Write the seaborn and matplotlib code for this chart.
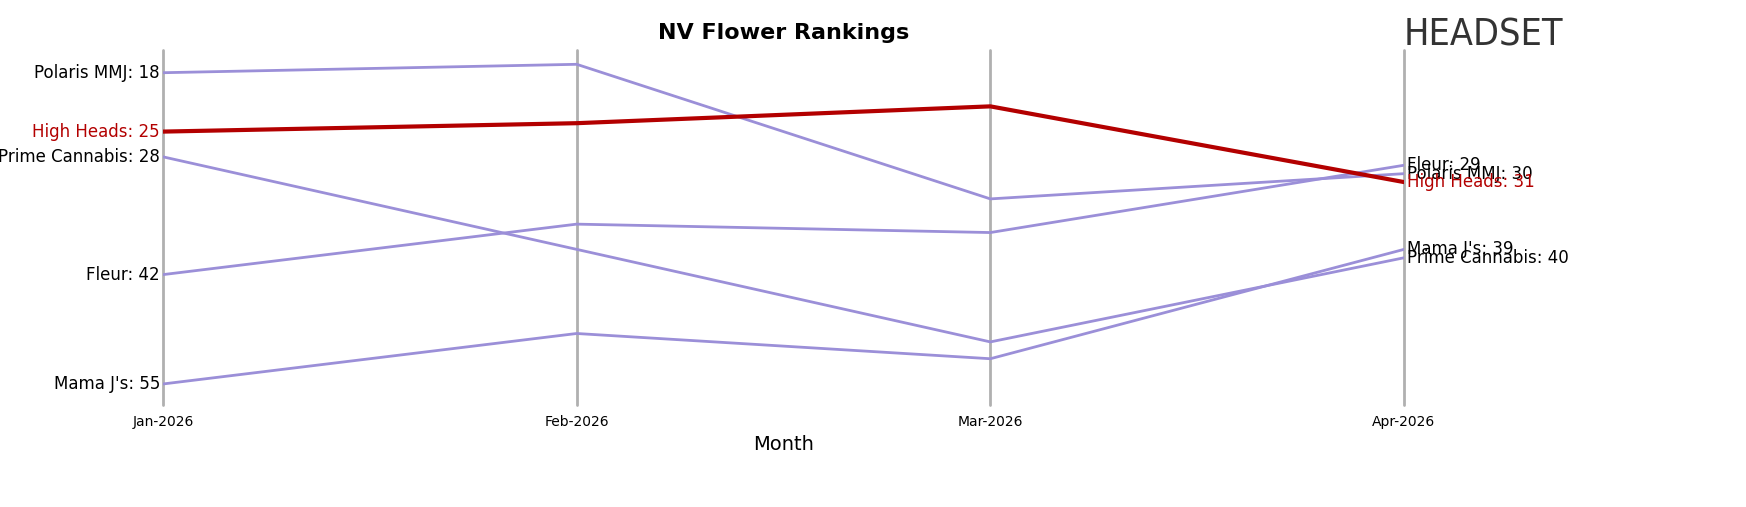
import matplotlib
matplotlib.use("Agg")
import matplotlib.pyplot as plt
import seaborn as sns
import pandas as pd

months = ["Jan-2026", "Feb-2026", "Mar-2026", "Apr-2026"]
brands = ["Polaris MMJ", "High Heads", "Prime Cannabis", "Fleur", "Mama J's"]
ranks = {
    "Polaris MMJ": [18, 17, 33, 30],
    "High Heads": [25, 24, 22, 31],
    "Prime Cannabis": [28, 39, 50, 40],
    "Fleur": [42, 36, 37, 29],
    "Mama J's": [55, 49, 52, 39],
}
highlight = "High Heads"

rows = [(b, i, r) for b in brands for i, r in enumerate(ranks[b])]
df = pd.DataFrame(rows, columns=["brand", "month", "rank"])

sns.set_style("white")
fig = plt.figure(figsize=(17.46, 5.07), dpi=100)
ax = fig.add_axes([163/1746, 1-405/507, (1404-163)/1746, (405-50)/507])

for i in range(len(months)):
    ax.axvline(i, color="#b0b0b0", lw=2, zorder=0, clip_on=False)

palette = {b: ("#b30000" if b == highlight else "#9b8fd8") for b in brands}
sns.lineplot(data=df[df.brand != highlight], x="month", y="rank", hue="brand",
             palette=palette, lw=2, legend=False, ax=ax)
sns.lineplot(data=df[df.brand == highlight], x="month", y="rank", hue="brand",
             palette=palette, lw=3, legend=False, ax=ax, zorder=5)

ax.set_ylim(57.5, 15.3)
ax.set_xlim(0, 3)
for s in ax.spines.values():
    s.set_visible(False)
ax.set_yticks([])
ax.set_xticks(range(len(months)))
ax.set_xticklabels(months, fontsize=10, color="black")
ax.tick_params(axis="x", length=4, color="#666666")
ax.set_xlabel("Month", fontsize=14, color="black")
ax.set_ylabel("")
ax.set_title("NV Flower Rankings", fontsize=16, fontweight="bold", pad=8, color="black")

for b in brands:
    c = "#b30000" if b == highlight else "black"
    ax.text(-0.007, ranks[b][0], f"{b}: {ranks[b][0]}", ha="right", va="center", fontsize=12, color=c)
    ax.text(3.007, ranks[b][-1], f"{b}: {ranks[b][-1]}", ha="left", va="center", fontsize=12, color=c)

fig.text(1404/1746, 1-35/507, "HEADSET", fontsize=27, color="#333333", va="center", ha="left",
         family="DejaVu Sans", fontstretch="condensed")
fig.savefig("out.png", dpi=100)
